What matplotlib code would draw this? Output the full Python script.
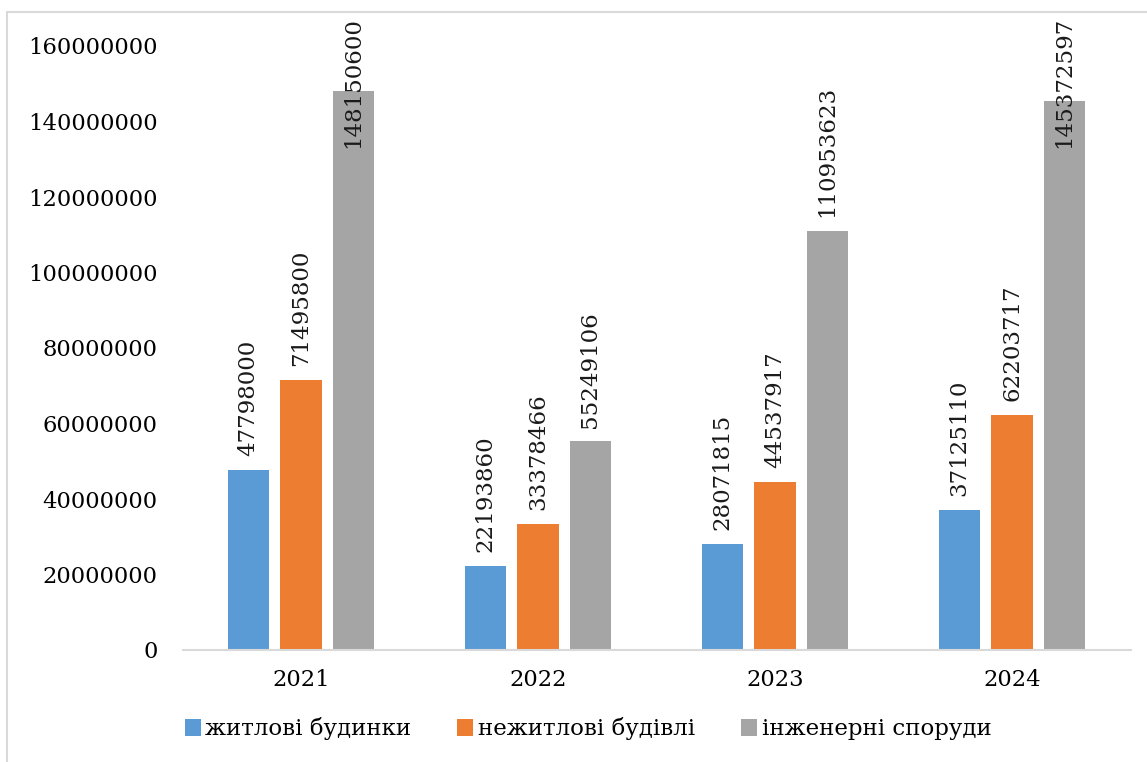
import matplotlib
matplotlib.use('Agg')
import matplotlib.pyplot as plt
from matplotlib.patches import Rectangle
import numpy as np

roky = ['2021', '2022', '2023', '2024']
zhytlovi = [47798000, 22193860, 28071815, 37125110]
nezhytlovi = [71495800, 33378466, 44537917, 62203717]
inzhenerni = [148150600, 55249106, 110953623, 145372597]
nazvy = ['житлові будинки', 'нежитлові будівлі', 'інженерні споруди']
kolory = ['#5B9BD5', '#ED7D31', '#A5A5A5']

plt.rcParams['font.family'] = ['DejaVu Serif']

fig = plt.figure(figsize=(11.47, 7.62), dpi=100)
ax = fig.add_axes([182.5/1147, 112/762, 948/1147, 604/762])

x = np.arange(len(roky))
w = 0.173
krok = 0.2215
teksty = []
ryady = [zhytlovi, nezhytlovi, inzhenerni]
for i, (ryad, kolir, nazva) in enumerate(zip(ryady, kolory, nazvy)):
    poz = x + (i - 1) * krok
    ax.bar(poz, ryad, width=w, color=kolir, label=nazva, zorder=2)
    for px, v in zip(poz, ryad):
        t = ax.annotate(str(v), (px, v), xytext=(0, 10), textcoords='offset points',
                        rotation=90, ha='center', va='bottom', fontsize=16.5,
                        color='#1a1a1a', annotation_clip=False)
        teksty.append(t)

ax.set_xlim(-0.5, 3.5)
ax.set_ylim(0, 160000000)
ax.set_yticks(np.arange(0, 160000001, 20000000))
ax.yaxis.set_major_formatter(lambda v, p: f'{int(v)}')
ax.set_xticks(x)
ax.set_xticklabels(roky)
ax.tick_params(axis='both', length=0, labelsize=16.3, colors='#000000')
ax.tick_params(axis='y', pad=18)
ax.tick_params(axis='x', pad=14)
for s in ['top', 'right', 'left']:
    ax.spines[s].set_visible(False)
ax.spines['bottom'].set_color('#d9d9d9')
ax.spines['bottom'].set_linewidth(1.5)
ax.set_facecolor('none')

fig.legend(loc='center', bbox_to_anchor=(588/1147, 33/762), ncol=3, frameon=False,
           fontsize=16.5, handlelength=0.7, handleheight=0.7, handletextpad=0.2,
           columnspacing=2.0)

fig.patches.append(Rectangle((7.5/1147, -0.1), 1.2, (750/762) + 0.1,
                             transform=fig.transFigure, fill=False,
                             edgecolor='#d9d9d9', linewidth=1.5))

# labels that would leave the chart area are pushed down
fig.canvas.draw()
limit = 762 - 17
for t in teksty:
    bb = t.get_window_extent()
    if bb.y1 > limit:
        zsuv = (bb.y1 - limit) * 72 / fig.dpi
        t.xyann = (0, 10 - zsuv)

fig.savefig('out.png', dpi=100)
